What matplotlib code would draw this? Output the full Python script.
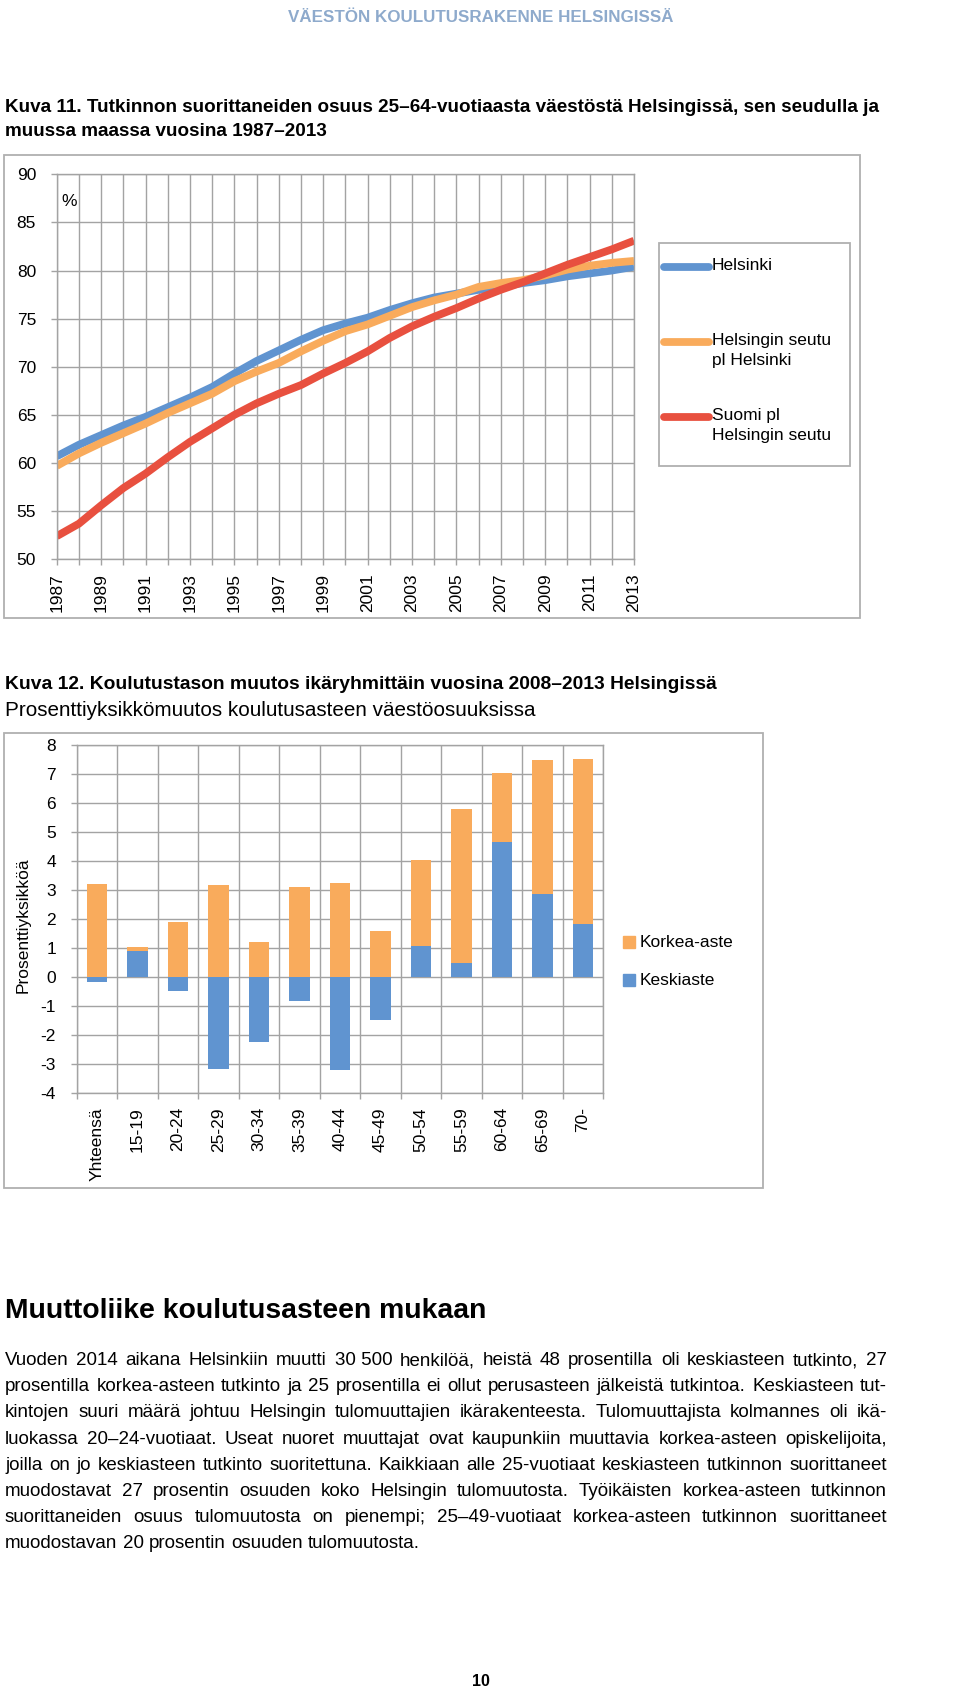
import numpy as np
import matplotlib
matplotlib.use('Agg')
import matplotlib.pyplot as plt
from matplotlib import font_manager
from matplotlib.patches import Rectangle
from matplotlib.lines import Line2D

# --- data ---------------------------------------------------------------
years = list(range(1987, 2014))
helsinki = [60.7, 61.9, 62.9, 63.9, 64.8, 65.8, 66.8, 67.9, 69.3, 70.6, 71.7, 72.8, 73.8,
            74.5, 75.1, 75.9, 76.6, 77.2, 77.6, 78.0, 78.3, 78.7, 79.0, 79.4, 79.7, 80.0, 80.4]
seutu = [59.7, 61.0, 62.1, 63.1, 64.1, 65.2, 66.2, 67.2, 68.5, 69.5, 70.4, 71.6, 72.7,
         73.7, 74.4, 75.3, 76.2, 76.9, 77.5, 78.3, 78.7, 79.0, 79.5, 80.1, 80.5, 80.8, 81.0]
suomi = [52.4, 53.7, 55.6, 57.4, 58.9, 60.6, 62.2, 63.6, 65.0, 66.2, 67.2, 68.1, 69.3,
         70.4, 71.6, 73.0, 74.2, 75.2, 76.1, 77.1, 78.0, 78.8, 79.7, 80.6, 81.4, 82.2, 83.1]
line_labels = ['Helsinki', 'Helsingin seutu\npl Helsinki', 'Suomi pl\nHelsingin seutu']

groups = ['Yhteensä', '15-19', '20-24', '25-29', '30-34', '35-39', '40-44',
          '45-49', '50-54', '55-59', '60-64', '65-69', '70-']
keskiaste = [-0.17, 0.9, -0.5, -3.16, -2.24, -0.82, -3.22, -1.48, 1.08, 0.49, 4.67, 2.86, 1.84]
korkea = [3.19, 0.15, 1.88, 3.16, 1.22, 3.1, 3.25, 1.57, 2.95, 5.32, 2.36, 4.62, 5.69]

header = 'VÄESTÖN KOULUTUSRAKENNE HELSINGISSÄ'
title1 = ['Kuva 11. Tutkinnon suorittaneiden osuus 25–64-vuotiaasta väestöstä Helsingissä, sen seudulla ja',
          'muussa maassa vuosina 1987–2013']
title2 = 'Kuva 12. Koulutustason muutos ikäryhmittäin vuosina 2008–2013 Helsingissä'
subtitle2 = 'Prosenttiyksikkömuutos koulutusasteen väestöosuuksissa'
heading = 'Muuttoliike koulutusasteen mukaan'
body = [
    'Vuoden 2014 aikana Helsinkiin muutti 30\u00a0500 henkilöä, heistä 48 prosentilla oli keskiasteen tutkinto, 27',
    'prosentilla korkea-asteen tutkinto ja 25 prosentilla ei ollut perusasteen jälkeistä tutkintoa. Keskiasteen tut-',
    'kintojen suuri määrä johtuu Helsingin tulomuuttajien ikärakenteesta. Tulomuuttajista kolmannes oli ikä-',
    'luokassa 20–24-vuotiaat. Useat nuoret muuttajat ovat kaupunkiin muuttavia korkea-asteen opiskelijoita,',
    'joilla on jo keskiasteen tutkinto suoritettuna. Kaikkiaan alle 25-vuotiaat keskiasteen tutkinnon suorittaneet',
    'muodostavat 27 prosentin osuuden koko Helsingin tulomuutosta. Työikäisten korkea-asteen tutkinnon',
    'suorittaneiden osuus tulomuutosta on pienempi; 25–49-vuotiaat korkea-asteen tutkinnon suorittaneet',
    'muodostavan 20 prosentin osuuden tulomuutosta.',
]

# --- style ----------------------------------------------------------------
BLUE = '#6094d0'
ORANGE = '#f9ab5c'
RED = '#e8503f'
GRID = '#a3a3a3'
BOX = '#b0b0b0'
W, H = 960, 1694

names = {f.name for f in font_manager.fontManager.ttflist}
NARROW = 'Liberation Sans Narrow' if 'Liberation Sans Narrow' in names else 'Liberation Sans'
plt.rcParams['font.family'] = ['Liberation Sans', 'DejaVu Sans']
plt.rcParams['axes.unicode_minus'] = False

fig = plt.figure(figsize=(W / 100, H / 100), dpi=100)
renderer = fig.canvas.get_renderer()


def rect(x0, y0, x1, y1):
    return [x0 / W, 1 - y1 / H, (x1 - x0) / W, (y1 - y0) / H]


def ftext(x, y, s, **kw):
    return fig.text(x / W, 1 - y / H, s, **kw)


def width_of(s, size, **kw):
    t = ftext(0, 0, s, fontsize=size, **kw)
    w = t.get_window_extent(renderer).width
    t.remove()
    return w


def fit_text(x, y, s, target_w, **kw):
    size = 12 * target_w / width_of(s, 12, **kw)
    return ftext(x, y, s, fontsize=size, **kw)


def style_axes(ax):
    for sp in ax.spines.values():
        sp.set_color(GRID)
        sp.set_linewidth(1.0)
    ax.set_axisbelow(True)
    ax.tick_params(axis='y', length=4.3, width=1.0, color=GRID, labelsize=12.5, pad=10.6)
    ax.tick_params(axis='x', labelsize=12.5)


# --- page texts -----------------------------------------------------------
fit_text(481, 17, header, 386, family=NARROW, weight='bold', color='#8eaacc',
         ha='center', va='center')
t = fit_text(5, 107, title1[0], 868, family=NARROW, weight='bold', va='center')
ftext(5, 132, title1[1], family=NARROW, weight='bold', va='center', fontsize=t.get_fontsize())

# --- chart 1 ----------------------------------------------------------------
fig.add_artist(Rectangle((4 / W, 1 - 618 / H), 856 / W, 463 / H, transform=fig.transFigure,
                         fill=False, edgecolor=BOX, lw=1.3))
ax1 = fig.add_axes(rect(56.7, 174.3, 634, 559.3))
style_axes(ax1)
for vals, col in [(helsinki, BLUE), (seutu, ORANGE), (suomi, RED)]:
    ax1.plot(years, vals, color=col, lw=5.6, solid_joinstyle='round', solid_capstyle='butt')
ax1.set_xlim(1987, 2013)
ax1.set_ylim(50, 90)
ax1.set_yticks(range(50, 91, 5))
ax1.set_xticks(years)
ax1.set_xticklabels([str(y) if (y - 1987) % 2 == 0 else '' for y in years], rotation=90)
ax1.tick_params(axis='x', length=4.3, width=1.0, color=GRID, pad=5.8)
ax1.grid(True, color=GRID, lw=1.0)
ftext(69, 202, '%', fontsize=12.5, ha='center', va='center')

# legend chart 1
fig.add_artist(Rectangle((659 / W, 1 - 466 / H), 191 / W, 223 / H, transform=fig.transFigure,
                         fill=False, edgecolor=BOX, lw=1.3))
for lab, col, yc in zip(line_labels, [BLUE, ORANGE, RED], [267, 342, 417]):
    fig.add_artist(Line2D([664 / W, 709 / W], [1 - yc / H] * 2, transform=fig.transFigure,
                          color=col, lw=5.6, solid_capstyle='round'))
    ftext(712, yc - 9, lab, fontsize=12.5, va='top', linespacing=1.45)

# --- chart 2 ----------------------------------------------------------------
fit_text(5, 684, title2, 708, family=NARROW, weight='bold', va='center')
fit_text(5, 710, subtitle2, 533, family=NARROW, va='center')

fig.add_artist(Rectangle((4 / W, 1 - 1188 / H), 759 / W, 455 / H, transform=fig.transFigure,
                         fill=False, edgecolor=BOX, lw=1.3))
ax2 = fig.add_axes(rect(76.7, 745, 603.2, 1093))
style_axes(ax2)
x = np.arange(len(groups))
kesk = np.array(keskiaste)
ax2.bar(x, kesk, width=0.5, color=BLUE, label='Keskiaste', zorder=2)
ax2.bar(x, korkea, width=0.5, bottom=np.maximum(kesk, 0), color=ORANGE,
        label='Korkea-aste', zorder=2)
ax2.set_xlim(-0.5, len(groups) - 0.5)
ax2.set_ylim(-4, 8)
ax2.set_yticks(range(-4, 9))
ax2.set_xticks(x)
ax2.set_xticklabels(groups, rotation=90, va='top')
ax2.set_xticks(np.arange(-0.5, len(groups)), minor=True)
ax2.tick_params(axis='x', which='major', length=0, pad=10.1)
ax2.tick_params(axis='x', which='minor', length=4.3, width=1.0, color=GRID)
ax2.grid(axis='y', which='major', color=GRID, lw=1.0)
ax2.grid(axis='x', which='minor', color=GRID, lw=1.0)
ax2.set_ylabel('Prosenttiyksikköä', fontsize=12.5)
ax2.yaxis.set_label_coords((31 - 76.7) / (603.2 - 76.7), (1093 - 925) / (1093 - 745))

# legend chart 2
for lab, col, yc in [('Korkea-aste', ORANGE, 942), ('Keskiaste', BLUE, 980)]:
    fig.add_artist(Rectangle((623 / W, 1 - (yc + 6) / H), 12 / W, 12 / H,
                             transform=fig.transFigure, color=col))
    ftext(640, yc, lab, fontsize=12.5, va='center')

# --- article text -------------------------------------------------------------
fit_text(5, 1311, heading, 479, family=NARROW, weight='bold', va='center')

# font size so that the longest justified line fits with normal spacing
maxw = max(width_of(s, 12, family=NARROW) for s in body[:-1])
size = 12 * 878 / maxw
space = width_of('a a', size, family=NARROW) - width_of('aa', size, family=NARROW)
y0, dy = 1365, 26.2
for i, line in enumerate(body):
    yb = 1 - (y0 + i * dy) / H
    words = line.split(' ')
    ts = [fig.text(0, yb, w, fontsize=size, family=NARROW, va='baseline') for w in words]
    ws = [t.get_window_extent(renderer).width for t in ts]
    if i == len(body) - 1:
        gap = space
    else:
        gap = (882 - sum(ws)) / (len(words) - 1)
    xp = 5
    for t, w in zip(ts, ws):
        t.set_x(xp / W)
        xp += w + gap

ftext(481, 1681, '10', fontsize=11.5, weight='bold', ha='center', va='center')

fig.savefig('out.png', dpi=100)
